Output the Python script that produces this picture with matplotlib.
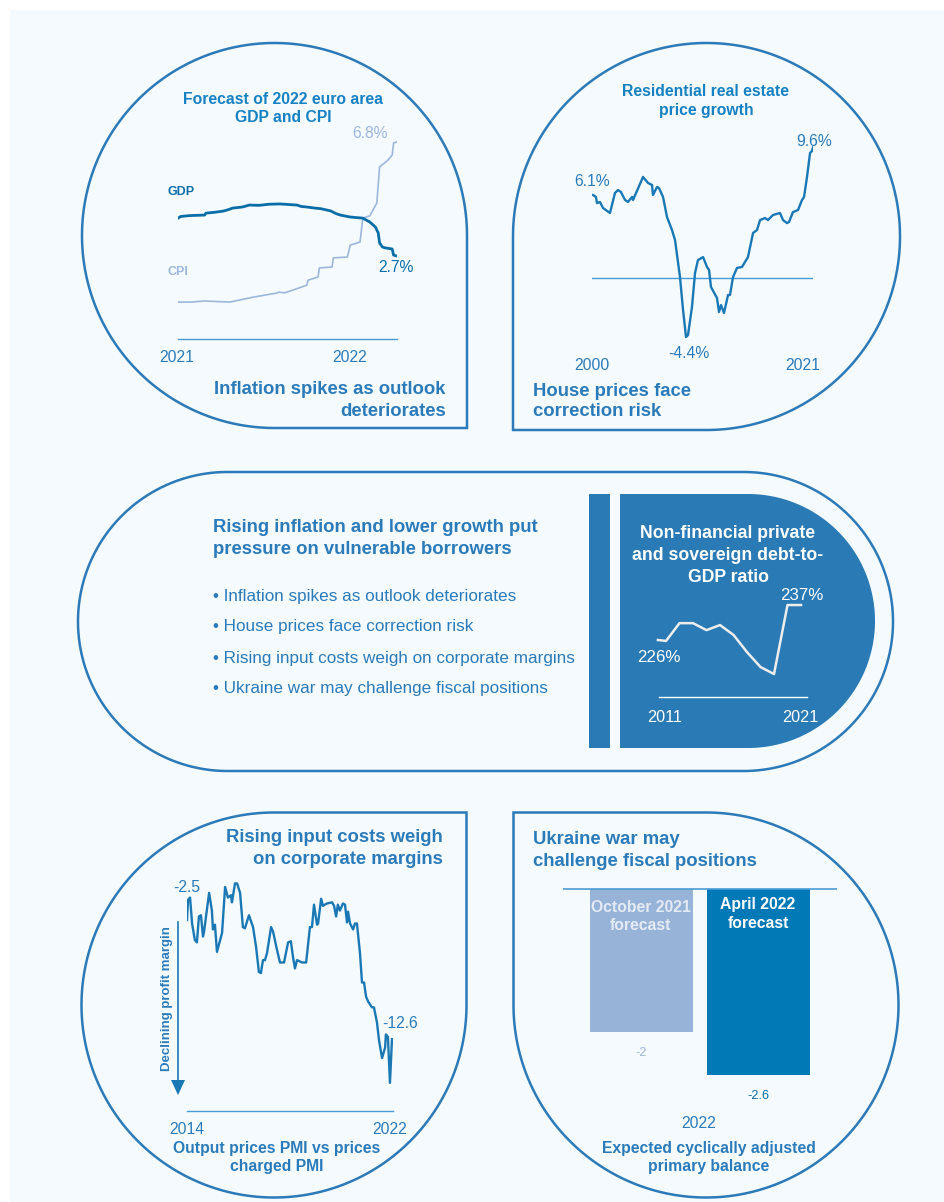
import matplotlib
matplotlib.use('Agg')
import matplotlib.pyplot as plt
from matplotlib.path import Path
from matplotlib.patches import PathPatch, Rectangle, Polygon
import numpy as np

plt.rcParams['font.family'] = ['Liberation Sans', 'DejaVu Sans']

# ---------------- data ----------------
# Chart 1: forecast of 2022 euro area GDP and CPI (months since Jan 2021, %)
gdp_month = [0.0, 0.2, 0.8, 1.3, 1.9, 2.0, 2.6, 3.2, 3.5, 3.9, 4.6, 5.1, 5.8, 6.5, 7.3,
             7.9, 8.5, 8.8, 9.2, 9.8, 10.2, 10.9, 11.3, 11.6, 12.3, 13.2, 13.7, 14.1,
             14.3, 14.4, 14.6, 14.8, 15.3, 15.4, 15.6]
gdp_value = [4.06, 4.12, 4.15, 4.16, 4.17, 4.24, 4.27, 4.31, 4.35, 4.42, 4.46, 4.53, 4.52,
             4.56, 4.57, 4.55, 4.53, 4.48, 4.46, 4.42, 4.40, 4.32, 4.22, 4.17, 4.10, 4.06,
             3.92, 3.74, 3.53, 3.17, 3.02, 2.99, 2.95, 2.73, 2.70]
cpi_month = [0.0, 0.9, 1.9, 3.7, 5.4, 7.1, 7.2, 7.6, 8.2, 9.2, 9.3, 10.0, 10.1, 11.0, 11.1,
             12.1, 12.3, 13.0, 13.2, 13.7, 14.2, 14.4, 15.0, 15.3, 15.4, 15.6]
cpi_value = [1.04, 1.04, 1.08, 1.04, 1.22, 1.37, 1.40, 1.37, 1.47, 1.65, 1.83, 1.94, 2.27,
             2.30, 2.63, 2.66, 3.09, 3.20, 4.06, 4.14, 4.60, 5.90, 6.15, 6.33, 6.76, 6.80]
c1_ticks = [0, 12]
c1_ticklabels = ['2021', '2022']

# Chart 2: residential real estate price growth (year, %)
re_year = [2000.10, 2000.39, 2000.49, 2000.79, 2001.08, 2001.77, 2002.26, 2002.56, 2002.85,
           2003.25, 2003.54, 2003.94, 2004.04, 2005.02, 2005.51, 2005.91, 2006.00, 2006.40,
           2006.59, 2006.99, 2007.38, 2007.87, 2008.17, 2008.66, 2008.96, 2009.25, 2009.45,
           2009.84, 2010.14, 2010.43, 2010.93, 2011.32, 2011.52, 2011.71, 2012.30, 2012.50,
           2012.70, 2012.99, 2013.39, 2013.58, 2013.88, 2014.27, 2014.76, 2015.35, 2015.85,
           2016.24, 2016.54, 2017.03, 2017.32, 2017.81, 2018.50, 2018.80, 2019.19, 2019.39,
           2019.78, 2020.28, 2020.67, 2020.87, 2021.16, 2021.46, 2021.65, 2021.75]
re_growth = [6.10, 5.96, 5.51, 5.59, 5.15, 4.78, 6.25, 6.47, 6.32, 5.74, 5.59, 5.96, 5.74,
             7.43, 6.99, 6.84, 6.10, 6.69, 6.62, 5.96, 4.49, 3.53, 2.79, 0.07, -2.35, -4.34,
             -4.19, -2.13, 0.37, 1.32, 1.54, 0.81, 0.59, -0.66, -1.47, -2.50, -1.99, -2.57,
             -1.25, -1.25, 0.07, 0.74, 0.81, 1.54, 3.31, 3.53, 4.26, 4.41, 4.26, 4.63, 4.78,
             4.26, 4.04, 4.12, 4.85, 5.00, 5.74, 5.96, 7.43, 9.19, 9.34, 9.60]

# Chart 3: non-financial private and sovereign debt-to-GDP ratio (%)
debt_year = [2010.4, 2011, 2012, 2013, 2014, 2015, 2016, 2017, 2018, 2019, 2020, 2021]
debt_ratio = [226.0, 225.7, 231.3, 231.3, 229.1, 230.7, 227.6, 222.2, 217.5, 215.3, 237.0, 237.0]

# Chart 4: output prices PMI vs prices charged PMI (year, index diff)
pmi_year = [2014.00, 2014.04, 2014.12, 2014.20, 2014.31, 2014.39, 2014.47, 2014.55, 2014.63,
            2014.67, 2014.87, 2014.98, 2015.02, 2015.10, 2015.18, 2015.38, 2015.50, 2015.61,
            2015.73, 2015.77, 2015.89, 2015.97, 2016.09, 2016.20, 2016.28, 2016.44, 2016.60,
            2016.72, 2016.83, 2016.91, 2016.99, 2017.07, 2017.15, 2017.31, 2017.39, 2017.54,
            2017.66, 2017.82, 2017.98, 2018.09, 2018.17, 2018.25, 2018.33, 2018.53, 2018.69,
            2018.84, 2018.92, 2019.00, 2019.12, 2019.16, 2019.28, 2019.35, 2019.51, 2019.71,
            2019.79, 2019.87, 2019.94, 2020.02, 2020.14, 2020.22, 2020.30, 2020.34, 2020.42,
            2020.54, 2020.61, 2020.69, 2020.81, 2020.89, 2020.97, 2021.05, 2021.13, 2021.28,
            2021.36, 2021.48, 2021.56, 2021.68, 2021.80, 2021.83, 2021.91, 2021.99, 2022.07]
pmi_diff = [-2.5, -0.8, -0.6, -2.8, -4.2, -4.4, -2.2, -2.1, -3.9, -3.5, -0.2, -1.7, -3.3,
            -2.9, -5.2, -3.6, 0.3, -0.6, -0.4, -1.0, 0.6, 0.6, -0.2, -3.1, -3.2, -2.1, -3.1,
            -4.8, -6.9, -7.0, -5.9, -5.9, -5.3, -3.1, -3.5, -5.0, -6.1, -6.1, -4.4, -4.3,
            -5.6, -6.6, -5.9, -6.1, -6.1, -3.1, -3.1, -1.2, -2.9, -2.8, -0.7, -1.3, -1.1,
            -1.0, -1.3, -2.2, -1.2, -1.7, -1.1, -1.2, -2.7, -1.8, -2.8, -3.3, -2.8, -2.8,
            -5.3, -7.8, -7.8, -9.0, -9.4, -9.9, -9.9, -11.2, -12.7, -14.2, -13.3, -12.2,
            -12.4, -16.3, -12.6]

# Chart 5: expected cyclically adjusted primary balance 2022
bal_labels = ['October 2021\nforecast', 'April 2022\nforecast']
bal_values = [-2.0, -2.6]

bullets = ['Inflation spikes as outlook deteriorates',
           'House prices face correction risk',
           'Rising input costs weigh on corporate margins',
           'Ukraine war may challenge fiscal positions']

# ---------------- style ----------------
W, H = 945, 1202
BG = '#F4FAFE'
OUT = '#2C7AB7'
TXT = '#2B7BBA'
TTL = '#1681C3'
LINE = '#1A78B4'
GDPC = '#0A6DA8'
CPIC = '#9DB7DB'
PANEL = '#2A7AB5'
ZERO = '#4A9CD2'
BAR1 = '#97B3D7'
BAR2 = '#0079B6'
BIG = 13.3
SUB = 11.3

fig = plt.figure(figsize=(W / 100, H / 100), dpi=100)
fig.patch.set_facecolor('white')
base = fig.add_axes([0, 0, 1, 1])
base.set_xlim(0, W)
base.set_ylim(H, 0)
base.axis('off')
base.add_patch(Rectangle((10, 10), W - 10, H - 10, facecolor=BG, edgecolor='none'))

# overlay for all text and decorations drawn above the chart axes
over = fig.add_axes([0, 0, 1, 1])
over.set_xlim(0, W)
over.set_ylim(H, 0)
over.axis('off')
over.patch.set_alpha(0)
over.set_zorder(20)


def arc(cx, cy, r, t0, t1, n=240):
    t = np.radians(np.linspace(t0, t1, n))
    return list(zip(cx + r * np.cos(t), cy - r * np.sin(t)))


def shape(verts, fc=BG, ec=OUT, lw=1.8, z=1):
    verts = verts + [verts[0]]
    codes = [Path.MOVETO] + [Path.LINETO] * (len(verts) - 2) + [Path.CLOSEPOLY]
    base.add_patch(PathPatch(Path(verts, codes), facecolor=fc, edgecolor=ec, lw=lw, zorder=z))


# connectors
for (x0, y0, x1, y1) in [(394, 428, 414, 472), (586, 430, 564, 472),
                         (415, 771, 393, 813), (564, 771, 586, 813)]:
    base.plot([x0, x1], [y0, y1], color=OUT, lw=1.8, zorder=0.5)

# bubbles
shape(arc(274.5, 235.5, 192.5, 0, 270) + [(467, 428)])
shape(arc(706.5, 236.5, 193.5, -90, 180) + [(513, 430)])
shape(arc(274, 1005, 192.5, 90, 360) + [(466.5, 812.5)])
shape(arc(706, 1005, 192.5, 180, 450) + [(513.5, 812.5)])
shape(arc(743.5, 621.5, 149.5, -90, 90) + arc(227.5, 621.5, 149.5, 90, 270))

# dark panel
base.add_patch(Rectangle((589, 494), 21, 254, facecolor=PANEL, edgecolor='none', zorder=2))
shape([(620, 748), (620, 494)] + arc(748, 621, 127, 90, -90), fc=PANEL, ec='none', lw=0, z=2)


def T(x, y, s, size, bold=False, color=TXT, ha='center', va='center', **kw):
    over.text(x, y, s, fontsize=size, fontweight='bold' if bold else 'normal',
              color=color, ha=ha, va=va, zorder=10, **kw)


def px_axes(x0, y0, x1, y1):
    ax = fig.add_axes([x0 / W, 1 - y1 / H, (x1 - x0) / W, (y1 - y0) / H])
    ax.patch.set_alpha(0)
    ax.axis('off')
    ax.set_zorder(5)
    return ax


# ---------- Chart 1 ----------
ax1 = px_axes(178, 130, 397, 339)
ax1.plot(cpi_month, cpi_value, color=CPIC, lw=1.2)
ax1.plot(gdp_month, gdp_value, color=GDPC, lw=2.0)
ax1.set_xlim(0, 219 / 14)
ax1.set_ylim((331 - 339) / 27.8, (331 - 130) / 27.8)
base.plot([178, 397], [339, 339], color=ZERO, lw=1.0)
for t, lab in zip(c1_ticks, c1_ticklabels):
    T(178 + t * 14 + (4 if t else -1), 358, lab, 11.3)
T(283, 100, 'Forecast of 2022 euro area', SUB, True, color=TTL)
T(283, 118, 'GDP and CPI', SUB, True, color=TTL)
T(370, 133, '6.8%', 11.3, color=CPIC)
T(396, 268, '2.7%', 11.3, color=GDPC)
T(167, 192, 'GDP', 9, True, color=GDPC, ha='left')
T(167, 272, 'CPI', 9, True, color=CPIC, ha='left')
T(446, 389, 'Inflation spikes as outlook', BIG, True, ha='right')
T(446, 412, 'deteriorates', BIG, True, ha='right')

# ---------- Chart 2 ----------
ax2 = px_axes(592, 140, 813, 345)
ax2.axhline(0, color=ZERO, lw=1.0)
ax2.plot(re_year, re_growth, color=LINE, lw=1.7)
ax2.set_xlim(2000.0, 2021.75)
ax2.set_ylim((278 - 345) / 13.6, (278 - 140) / 13.6)
T(706, 92, 'Residential real estate', SUB, True, color=TTL)
T(706, 111, 'price growth', SUB, True, color=TTL)
T(814, 141, '9.6%', 11.3)
T(592, 181, '6.1%', 11.3)
T(689, 354, '-4.4%', 11.3)
T(592, 365, '2000', 11.3)
T(803, 365, '2021', 11.3)
T(533, 391, 'House prices face', BIG, True, ha='left')
T(533, 412, 'correction risk', BIG, True, ha='left')

# ---------- Middle ----------
T(213, 528, 'Rising inflation and lower growth put', BIG, True, ha='left')
T(213, 550, 'pressure on vulnerable borrowers', BIG, True, ha='left')
for i, b in enumerate(bullets):
    T(213, 596 + 31 * i, '\u2022 ' + b, 12.3, ha='left')

# ---------- Chart 3 ----------
ax3 = px_axes(655, 590, 810, 697)
ax3.plot(debt_year, debt_ratio, color='#EDEDED', lw=1.8)
ax3.set_xlim(2011 + (655 - 666) / 13.5, 2011 + (810 - 666) / 13.5)
ax3.set_ylim(226 - (697 - 640) / 3.18, 226 + (640 - 590) / 3.18)
over.plot([659, 807], [697, 697], color='white', lw=1.0)
T(728, 533, 'Non-financial private', 12.7, True, color='white')
T(728, 555, 'and sovereign debt-to-', 12.7, True, color='white')
T(728, 578, 'GDP ratio', 12.7, True, color='white')
T(802, 596, '237%', 12.2, color='white')
T(659, 657, '226%', 12.2, color='white')
T(665, 718, '2011', 11.7, color='white')
T(800, 718, '2021', 11.7, color='white')

# ---------- Chart 4 ----------
ax4 = px_axes(187, 870, 393, 1111)
ax4.plot(pmi_year, pmi_diff, color=LINE, lw=1.7)
ax4.set_xlim(2014.0, 2022.11)
ax4.set_ylim(-2.5 - (1111 - 920) / 11.8, -2.5 + (920 - 870) / 11.8)
base.plot([187, 393], [1111, 1111], color=ZERO, lw=1.0)
base.plot([178, 178], [922, 1082], color=LINE, lw=1.2)
base.add_patch(Polygon([(171, 1080), (185, 1080), (178, 1095)], closed=True,
                       facecolor=LINE, edgecolor='none'))
T(167, 999, 'Declining profit margin', 9.5, True, rotation=90)
T(443, 838, 'Rising input costs weigh', BIG, True, ha='right')
T(443, 860, 'on corporate margins', BIG, True, ha='right')
T(187, 888, '-2.5', 11.3)
T(400, 1023, '-12.6', 11.3)
T(187, 1129, '2014', 11.3)
T(390, 1129, '2022', 11.3)
T(277, 1148, 'Output prices PMI vs prices', SUB, True)
T(277, 1167, 'charged PMI', SUB, True)

# ---------- Chart 5 ----------
ax5 = px_axes(563, 880, 837, 1090)
ax5.bar([0, 1], bal_values, width=0.88, color=[BAR1, BAR2])
ax5.axhline(0, color=ZERO, lw=1.2)
ax5.set_xlim(-0.671, 1.671)
ax5.set_ylim(-(1090 - 889) / 71.7, 9 / 71.7)
T(533, 839, 'Ukraine war may', BIG, True, ha='left')
T(533, 861, 'challenge fiscal positions', BIG, True, ha='left')
l1 = bal_labels[0].split('\n')
l2 = bal_labels[1].split('\n')
T(641, 908, l1[0], 11.3, True, color='#E4EBF4')
T(641, 926, l1[1], 11.3, True, color='#E4EBF4')
T(758, 905, l2[0], 11.3, True, color='white')
T(758, 923, l2[1], 11.3, True, color='white')
T(641, 1053, '%g' % bal_values[0], 9.2, color=CPIC)
T(758, 1096, '%g' % bal_values[1], 9.2, color=GDPC)
T(699, 1123, '2022', 11.3)
T(709, 1148, 'Expected cyclically adjusted', SUB, True)
T(709, 1167, 'primary balance', SUB, True)

fig.savefig('out.png', dpi=100, facecolor='white')
